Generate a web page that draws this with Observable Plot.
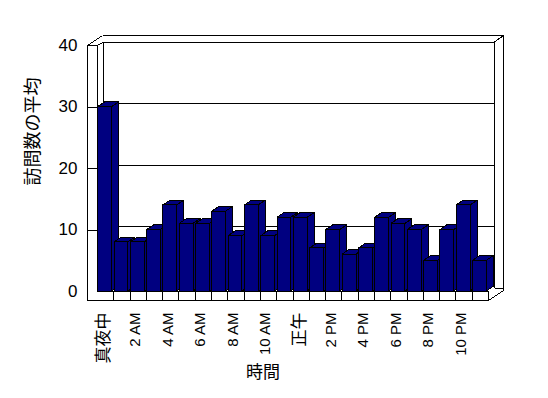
<!DOCTYPE html>
<html>
<head>
<meta charset="utf-8">
<script src="https://cdn.jsdelivr.net/npm/d3@7"></script>
<script src="https://cdn.jsdelivr.net/npm/@observablehq/plot@0.6"></script>
<style>
  html, body { margin: 0; padding: 0; background: #fff; }
</style>
</head>
<body>
<div id="chart"></div>
<script>
// ---- data ----
const hours = ["真夜中","1 AM","2 AM","3 AM","4 AM","5 AM","6 AM","7 AM","8 AM","9 AM","10 AM","11 AM",
               "正午","1 PM","2 PM","3 PM","4 PM","5 PM","6 PM","7 PM","8 PM","9 PM","10 PM","11 PM"];
const visits = [30, 8, 8, 10, 14, 11, 11, 13, 9, 14, 9, 12, 12, 7, 10, 6, 7, 12, 11, 10, 5, 10, 14, 5];
const tickLabels = ["真夜中","2 AM","4 AM","6 AM","8 AM","10 AM","正午","2 PM","4 PM","6 PM","8 PM","10 PM"];
const yTicks = [0, 10, 20, 30, 40];
const yTitle = "訪問数の平均";
const xTitle = "時間";

// ---- layout / style ----
const W = 548, H = 398, ML = 97, MR = 60, MT = 45, MB = 107;
const N = hours.length, YMAX = 40;
const kx = N / (W - ML - MR);      // data units per px (x)
const ky = YMAX / (H - MT - MB);   // data units per px (y)
const NAVY = "#000080";
const barX1 = 0.05, barX2 = 0.90;       // bar front face within a category
const depthX = 7 * kx, depthY = 4.7 * ky; // bar 3D depth
const wallW = 10, floorH = 9;           // px
const bdx = 6, bdy = 3.5;               // back wall inner offset px
const odx = 15, ody = 10;               // back wall outer offset px
const X = (d, px = 0) => d + px * kx;
const Y = (d, px = 0) => d + px * ky;

// ---- derived geometry for 3D bars ----
const fronts = visits.map((v, i) => ({i, x1: i + barX1, x2: i + barX2, y1: 0, y2: v}));
const sides = visits.flatMap((v, i) => [
  {i, x: i + barX2, y1: 0, y2: v},
  {i, x: i + barX2 + depthX, y1: depthY, y2: v + depthY}
]);
const tops = visits.flatMap((v, i) => [
  {i, y: v, x1: i + barX1, x2: i + barX2},
  {i, y: v + depthY, x1: i + barX1 + depthX, x2: i + barX2 + depthX}
]);

// ---- frame segments (walls and floor) ----
const seg = (x1, y1, x2, y2) => ({x1, y1, x2, y2});
const grid = yTicks.filter(t => t > 0 && t < YMAX);
const backSegs = [
  ...grid.map(g => seg(X(0, bdx), Y(g, bdy), X(N, bdx), Y(g, bdy))),
  seg(X(0, bdx), Y(YMAX, bdy), X(N, bdx), Y(YMAX, bdy)),
  seg(X(0, bdx), Y(YMAX, bdy), X(0, bdx), Y(0, bdy)),
  seg(X(N, bdx), Y(YMAX, bdy), X(N, bdx), Y(0, bdy)),
  seg(X(N, bdx), Y(0, bdy), X(N, odx), Y(0, bdy))
];
const frontSegs = [
  seg(X(0, -wallW), Y(0, -floorH), X(0, -wallW), Y(YMAX)),
  seg(X(0), Y(0), X(0), Y(YMAX)),
  seg(X(0, -wallW), Y(YMAX), X(0), Y(YMAX)),
  seg(X(0, -wallW), Y(YMAX), X(0, -wallW + odx), Y(YMAX, ody)),
  seg(X(0), Y(YMAX), X(0, bdx), Y(YMAX, bdy)),
  seg(X(0, -wallW + odx), Y(YMAX, ody), X(N, odx), Y(YMAX, ody)),
  seg(X(N, bdx), Y(YMAX, bdy), X(N, odx), Y(YMAX, ody)),
  seg(X(N, odx), Y(YMAX, ody), X(N, odx), Y(0, -floorH + ody)),
  seg(X(N), Y(0, -floorH), X(N, odx), Y(0, -floorH + ody)),
  seg(X(0, -wallW), Y(0, -floorH), X(N), Y(0, -floorH)),
  seg(X(0), Y(0), X(N), Y(0)),
  ...d3.range(1, N + 1).map(k => seg(k, Y(0), k, Y(0, -floorH))),
  ...grid.map(g => seg(X(0, -wallW), g, X(0), g))
];

const fontLatin = "'Liberation Sans', Arial, sans-serif";
const fontCJK = "'Noto Sans CJK JP', 'Liberation Sans', sans-serif";
const isCJK = s => /[^\x00-\x7F]/.test(s);
const labelPos = tickLabels.map((d, i) => ({label: d, x: i * 2 + 0.5}));
const latinLabels = labelPos.filter(d => !isCJK(d.label));
const cjkLabels = labelPos.filter(d => isCJK(d.label));

const chart = Plot.plot({
  width: W, height: H,
  marginLeft: ML, marginRight: MR, marginTop: MT, marginBottom: MB,
  x: {type: "linear", domain: [0, N], axis: null},
  y: {type: "linear", domain: [0, YMAX], axis: null},
  style: {fontFamily: fontLatin, background: "#fff", color: "#000"},
  marks: [
    Plot.link(backSegs, {x1: "x1", y1: "y1", x2: "x2", y2: "y2", stroke: "#000", strokeWidth: 1}),
    Plot.area(sides, {x1: "x", y1: "y1", y2: "y2", z: "i", fill: NAVY, stroke: "#000", strokeWidth: 1}),
    Plot.area(tops, {x1: "x1", x2: "x2", y1: "y", z: "i", fill: NAVY, stroke: "#000", strokeWidth: 1}),
    Plot.rect(fronts, {x1: "x1", x2: "x2", y1: "y1", y2: "y2", fill: NAVY, stroke: "#000", strokeWidth: 1}),
    Plot.link(frontSegs, {x1: "x1", y1: "y1", x2: "x2", y2: "y2", stroke: "#000", strokeWidth: 1}),
    Plot.text(yTicks, {x: 0, y: d => d, text: d => String(d), dx: -20, textAnchor: "end", fontSize: 17, fill: "#000"}),
    Plot.text(latinLabels, {
      x: "x", y: 0, text: "label", rotate: -90, textAnchor: "end",
      dy: 21, dx: -3, fontSize: 15, fontFamily: fontLatin, fill: "#000"
    }),
    Plot.text(cjkLabels, {
      x: "x", y: 0, text: "label", rotate: -90, textAnchor: "end",
      dy: 21, dx: -2, fontSize: 17, fontFamily: fontCJK, fill: "#000"
    }),
    Plot.text([yTitle], {frameAnchor: "left", text: d => d, rotate: -90, dx: -64, dy: 17, fontSize: 18, fontFamily: fontCJK, fill: "#000"}),
    Plot.text([xTitle], {frameAnchor: "bottom", text: d => d, dx: -30, dy: 86, fontSize: 17, fontFamily: fontCJK, fill: "#000"})
  ]
});
chart.style.shapeRendering = "crispEdges";
document.getElementById("chart").appendChild(chart);
</script>
</body>
</html>
